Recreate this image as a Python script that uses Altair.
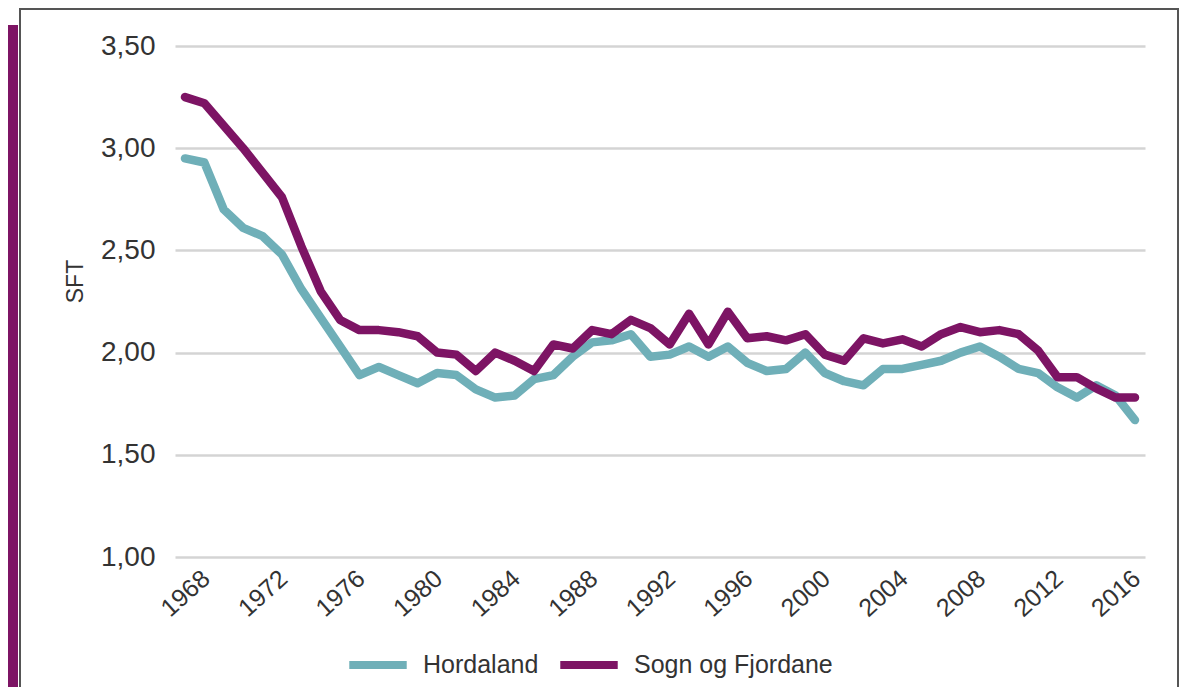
import altair as alt
import pandas as pd

years = list(range(1968, 2018))
hordaland = [2.95, 2.93, 2.70, 2.61, 2.57, 2.48, 2.31, 2.17, 2.03, 1.89,
             1.93, 1.89, 1.85, 1.90, 1.89, 1.82, 1.78, 1.79, 1.87, 1.89,
             1.98, 2.05, 2.06, 2.09, 1.98, 1.99, 2.03, 1.98, 2.03, 1.95,
             1.91, 1.92, 2.00, 1.90, 1.86, 1.84, 1.92, 1.92, 1.94, 1.96,
             2.00, 2.03, 1.98, 1.92, 1.90, 1.83, 1.78, 1.84, 1.79, 1.67]
sogn = [3.25, 3.22, 3.11, 3.00, 2.88, 2.76, 2.52, 2.30, 2.16, 2.11,
        2.11, 2.10, 2.08, 2.00, 1.99, 1.91, 2.00, 1.96, 1.91, 2.04,
        2.02, 2.11, 2.09, 2.16, 2.12, 2.04, 2.19, 2.04, 2.20, 2.07,
        2.08, 2.06, 2.09, 1.99, 1.96, 2.07, 2.045, 2.065, 2.03, 2.09,
        2.125, 2.10, 2.11, 2.09, 2.01, 1.88, 1.88, 1.825, 1.78, 1.78]
series = ["Hordaland", "Sogn og Fjordane"]
colors = ["#6FAFB8", "#7D1464"]
tick_years = list(range(1968, 2017, 4))
y_ticks = [1.0, 1.5, 2.0, 2.5, 3.0, 3.5]

rows = []
for y, h, s in zip(years, hordaland, sogn):
    rows.append({"year": y, "series": series[0], "sft": h})
    rows.append({"year": y, "series": series[1], "sft": s})
df = pd.DataFrame(rows)

FONT = "Liberation Sans"
one = alt.Data(values=[{"k": 1}])

side_bar = alt.Chart(one).mark_rect(color="#7D1464").encode(
    x=alt.value(-175), x2=alt.value(-157), y=alt.value(-21), y2=alt.value(700)
)
frame = alt.Chart(one).mark_rect(fill="transparent", stroke="#555555", strokeWidth=2).encode(
    x=alt.value(-155), x2=alt.value(1003), y=alt.value(-37), y2=alt.value(700)
)

lines = alt.Chart(df).mark_line(strokeWidth=8.5, strokeCap="round", strokeJoin="round").encode(
    x=alt.X("year:Q",
            scale=alt.Scale(domain=[1967.484, 2017.516], nice=False, zero=False),
            axis=alt.Axis(values=tick_years, format="d", title=None, grid=False,
                          domain=False, ticks=False, tickSize=0,
                          labelAngle=-42, labelAlign="center", labelBaseline="middle",
                          labelPadding=36, labelFont=FONT, labelFontSize=25,
                          labelColor="#333333", labelOverlap=False)),
    y=alt.Y("sft:Q",
            scale=alt.Scale(domain=[1.0, 3.5], nice=False, zero=False),
            axis=alt.Axis(values=y_ticks, title="SFT", grid=True, gridColor="#D4D4D4",
                          gridWidth=2.5, domain=False, ticks=False, tickSize=0,
                          labelExpr="replace(format(datum.value, '.2f'), '.', ',')",
                          labelPadding=20, labelFont=FONT, labelFontSize=28,
                          labelColor="#333333",
                          titleFont=FONT, titleFontSize=23, titleFontWeight="normal",
                          titleColor="#333333", titleAngle=-90, titleX=-100, titleY=235,
                          titleAlign="center", titleBaseline="middle")),
    color=alt.Color("series:N",
                    scale=alt.Scale(domain=series, range=colors),
                    legend=alt.Legend(title=None, orient="none", legendX=170, legendY=586,
                                      direction="horizontal", columns=2,
                                      symbolType="stroke", symbolSize=3300,
                                      symbolStrokeWidth=8, labelFont=FONT,
                                      labelFontSize=25, labelColor="#333333",
                                      labelLimit=0,
                                      labelOffset=12, columnPadding=5, padding=0)),
)

chart = alt.layer(side_bar, frame, lines).properties(
    width=970, height=511,
    padding={"left": 167, "top": 38, "right": 35, "bottom": 130},
    autosize=alt.AutoSizeParams(type="none"),
    background="white",
).configure_view(strokeWidth=0)

chart.save("out.html", embed_options={"renderer": "svg", "actions": False})
